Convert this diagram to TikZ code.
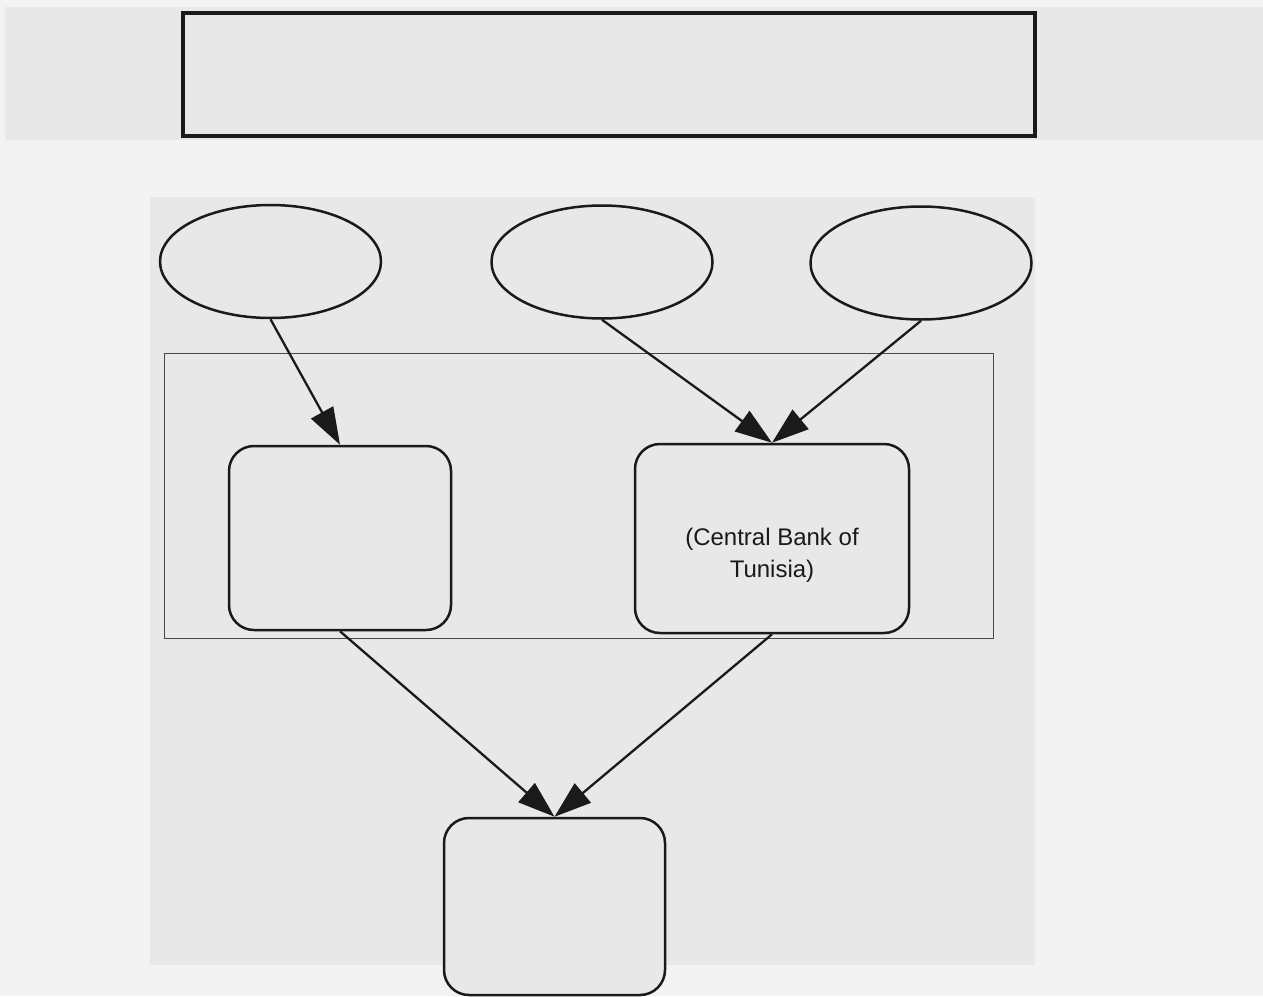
\documentclass[tikz,border=0pt]{standalone}
\usepackage{fontspec}
\setmainfont{Liberation Sans}
\usetikzlibrary{shapes.geometric,arrows.meta}
\definecolor{pagebg}{HTML}{F3F3F3}
\definecolor{paper}{HTML}{E8E8E8}
\definecolor{ink}{HTML}{1A1A1A}
\tikzset{
  oval/.style={ellipse, draw=ink, line width=2.5pt, fill=paper, minimum width=221pt, minimum height=113pt, inner sep=0pt},
  rbox/.style={rectangle, rounded corners=25pt, draw=ink, line width=2.5pt, fill=paper, inner sep=0pt},
  boxtext/.style={align=center, font=\fontsize{24pt}{32pt}\selectfont, text=ink, inner sep=0pt},
  conn/.style={draw=ink, line width=2.3pt, -{Triangle[length=37pt,width=25pt]}},
}
\begin{document}
\begin{tikzpicture}[x=1pt,y=-1pt]
\useasboundingbox (0,0) rectangle (1263,996);
\fill[pagebg] (0,0) rectangle (1263,996);
\fill[paper] (5,7) rectangle (1263,140);
\fill[paper] (150,197) rectangle (1035,965);
% title box
\node[rectangle, draw=ink, line width=3.5pt, fill=paper, minimum width=852pt, minimum height=123pt, inner sep=0pt] (title) at (609,74.5) {};
% cluster
\node[rectangle, draw=ink!80, line width=1pt, minimum width=829pt, minimum height=285pt, inner sep=0pt] (cluster) at (578.5,495.5) {};
% ellipses
\node[oval] (e1) at (270.5,261.5) {};
\node[oval] (e2) at (602,262) {};
\node[oval] (e3) at (921,263) {};
% boxes
\node[rbox, minimum width=222pt, minimum height=184pt] (a) at (340,538) {};
\node[rbox, minimum width=274pt, minimum height=189pt,
      label={[boxtext, yshift=-17pt]center:(Central Bank of\\Tunisia)}] (b) at (772,538.5) {};
\node[rbox, minimum width=221pt, minimum height=177pt] (c) at (554.5,906.5) {};
% connectors
\draw[conn] (e1.south) -- (a.north);
\draw[conn] (e2.south) -- (b.north);
\draw[conn] (e3.south) -- (b.north);
\draw[conn] (a.south) -- (c.north);
\draw[conn] (b.south) -- (c.north);
\end{tikzpicture}
\end{document}
